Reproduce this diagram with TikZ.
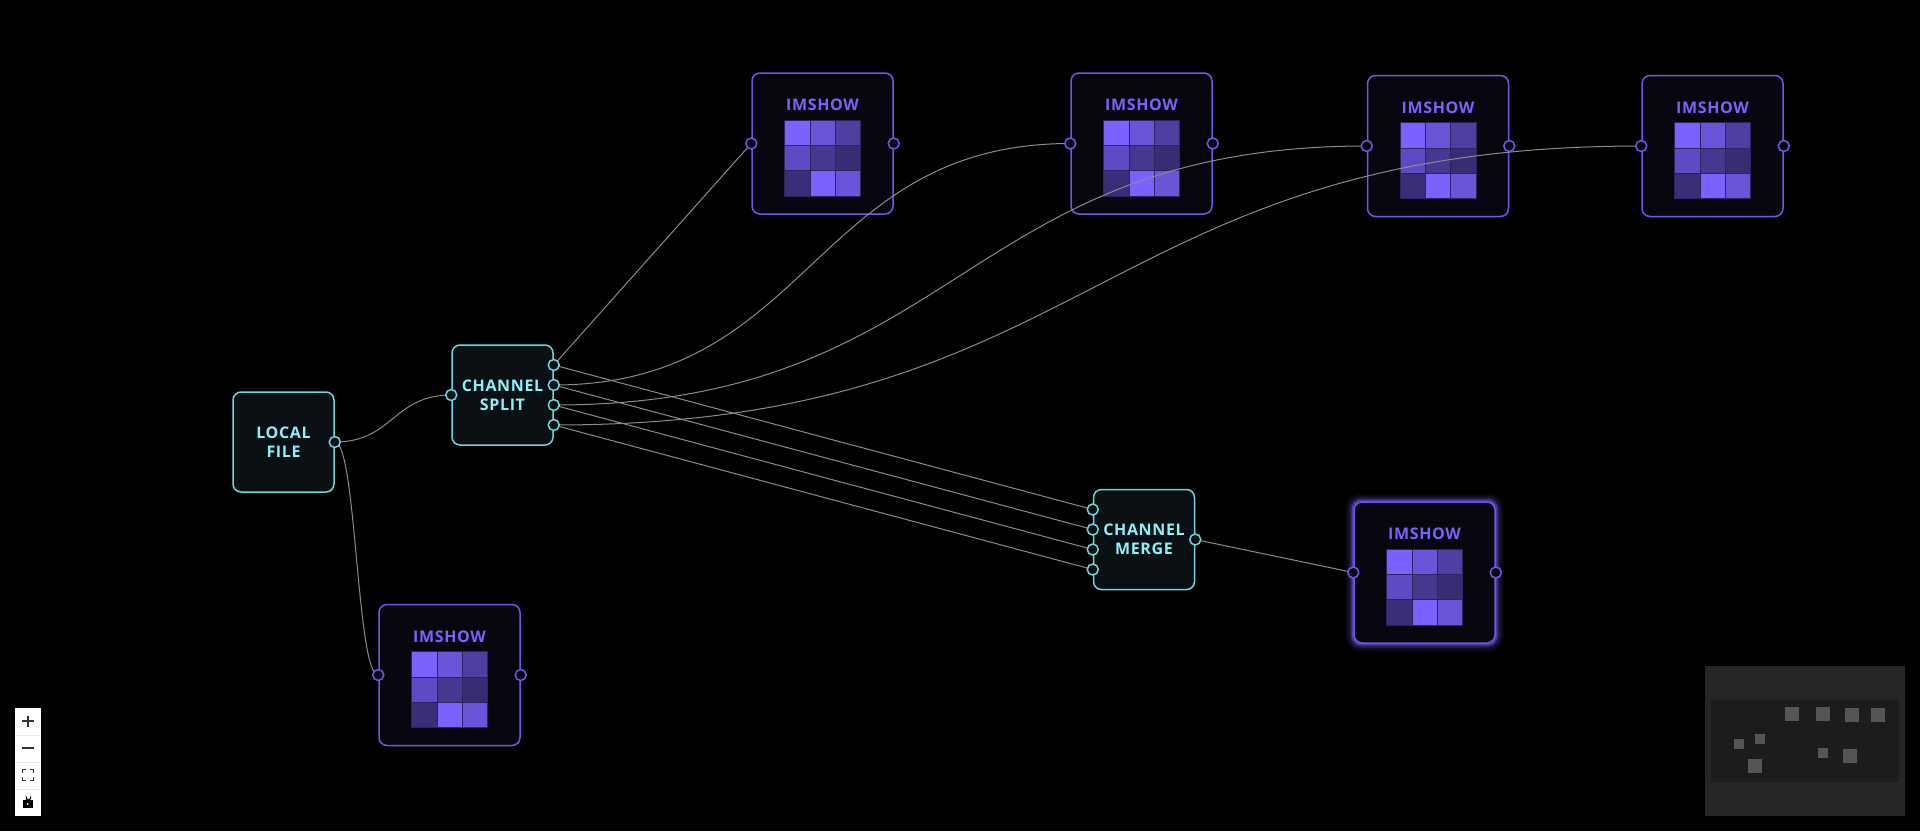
\documentclass[tikz,border=0pt]{standalone}
\usepackage{fontspec}
\setmainfont{Open Sans}
\newfontfamily\nodefont[LetterSpace=4]{Open Sans}
\usetikzlibrary{calc,backgrounds}

\definecolor{opline}{RGB}{112,214,222}
\definecolor{optext}{RGB}{142,240,248}
\definecolor{opfill}{RGB}{10,16,19}
\definecolor{showline}{RGB}{110,88,232}
\definecolor{showtext}{RGB}{122,98,255}
\definecolor{showfill}{RGB}{8,7,16}
\definecolor{wirecol}{RGB}{140,140,140}
\definecolor{cellline}{RGB}{45,36,95}
\definecolor{px1}{RGB}{123,97,255}
\definecolor{px2}{RGB}{105,85,215}
\definecolor{px3}{RGB}{78,63,160}
\definecolor{px4}{RGB}{94,75,195}
\definecolor{px5}{RGB}{70,56,143}
\definecolor{px6}{RGB}{56,44,115}
\definecolor{px7}{RGB}{58,46,120}
\definecolor{mapouter}{RGB}{38,38,38}
\definecolor{mapinner}{RGB}{28,28,28}
\definecolor{mapnode}{RGB}{85,85,85}

\tikzset{
    opbox/.style={draw=opline, fill=opfill, line width=1.5pt, rounded corners=8pt,
        minimum width=101pt, minimum height=100pt, inner sep=0pt, align=center,
        text=optext, font=\nodefont\bfseries\fontsize{16}{19}\selectfont},
    showbox/.style={draw=showline, fill=showfill, line width=1.5pt, rounded corners=8pt,
        minimum width=141pt, minimum height=141pt, inner sep=0pt},
    showtitle/.style={text=showtext, inner sep=0pt,
        font=\nodefont\bfseries\fontsize{16}{19}\selectfont},
    opport/.style={circle, draw=opline, fill=opfill, line width=1.5pt,
        minimum size=11pt, inner sep=0pt},
    showport/.style={circle, draw=showline, fill=showfill, line width=1.5pt,
        minimum size=11pt, inner sep=0pt},
    wire/.style={draw=wirecol, line width=1pt},
    cell/.style={draw=cellline, line width=0.6pt},
    icon/.style={draw=black!80, line width=1.4pt},
}

\newcommand{\imshownode}[3]{%
    \node[showbox] (#1) at (#2,#3) {} ;
    \node[showtitle] (#1-title) at ($(#1.center)+(0,-38.5)$) {IMSHOW} ;
    \foreach \c [count=\k from 0] in {px1,px2,px3,px4,px5,px6,px7,px1,px2} {
        \pgfmathtruncatemacro\gx{mod(\k,3)}
        \pgfmathtruncatemacro\gy{\k/3}
        \filldraw[cell, fill=\c] ($(#1.center)+(\gx*25.33-38,\gy*25.33-23.5)$) rectangle +(25.33,25.33) ;
    }
    \coordinate (#1-in) at (#1.west) ;
    \coordinate (#1-out) at (#1.east) ;
}

\newcommand{\curvewire}[2]{%
    \draw[wire] let \p1=(#1), \p2=(#2) in
        (\p1) .. controls ({(\x1+\x2)/2},\y1) and ({(\x1+\x2)/2},\y2) .. (\p2) ;
}

\begin{document}
\begin{tikzpicture}[x=1pt, y=-1pt]
    \useasboundingbox (0,0) rectangle (1920,831) ;

    \node[opbox] (file) at (283.5,442) {LOCAL\\FILE} ;
    \node[opbox] (split) at (502.5,395) {CHANNEL\\SPLIT} ;
    \node[opbox] (merge) at (1144,539.5) {CHANNEL\\MERGE} ;

    \coordinate (file-out) at (file.east) ;
    \coordinate (split-in) at (split.west) ;
    \coordinate (merge-out) at (merge.east) ;
    \foreach \i/\dy in {1/-30, 2/-10, 3/10, 4/30} {
        \coordinate (split-o\i) at ($(split.east)+(0,\dy)$) ;
        \coordinate (merge-i\i) at ($(merge.west)+(0,\dy)$) ;
    }

    \imshownode{show1}{822.5}{143.5}
    \imshownode{show2}{1141.5}{143.5}
    \imshownode{show3}{1438}{146}
    \imshownode{show4}{1712.5}{146}
    \imshownode{show5}{449.5}{675}
    \imshownode{show6}{1424.5}{572.5}

    \begin{scope}[on background layer]
        \fill[black] (0,0) rectangle (1920,831) ;
        \foreach \w/\o in {16/0.06, 12/0.09, 8/0.14, 5/0.22, 3/0.35} {
            \draw[showtext, line width=\w pt, opacity=\o, rounded corners=8pt]
                (show6.north west) rectangle (show6.south east) ;
        }
    \end{scope}

    \curvewire{file-out}{split-in}
    \curvewire{file-out}{show5-in}
    \curvewire{split-o2}{show2-in}
    \curvewire{split-o3}{show3-in}
    \curvewire{split-o4}{show4-in}
    \draw[wire] (split-o1) -- (show1-in) ;
    \foreach \i in {1,...,4} {
        \draw[wire] (split-o\i) -- (merge-i\i) ;
    }
    \draw[wire] (merge-out) -- (show6-in) ;

    \foreach \p in {file-out, split-in, split-o1, split-o2, split-o3, split-o4,
        merge-out, merge-i1, merge-i2, merge-i3, merge-i4} {
        \node[opport] (\p-dot) at (\p) {} ;
    }
    \foreach \n in {show1, show2, show3, show4, show5, show6} {
        \node[showport] (\n-indot) at (\n-in) {} ;
        \node[showport] (\n-outdot) at (\n-out) {} ;
    }

    \fill[white] (15,708) rectangle (41,816) ;
    \foreach \yy in {735, 762, 789} {
        \draw[black!8] (15,\yy) -- (41,\yy) ;
    }
    \draw[icon] (22,721) -- (34,721) (28,715.5) -- (28,726.5) ;
    \draw[icon] (22,748) -- (34,748) ;
    \draw[icon, line width=1.2pt] (22.5,773) -- (22.5,769.5) -- (26,769.5)
        (30,769.5) -- (33.5,769.5) -- (33.5,773)
        (33.5,777) -- (33.5,780.5) -- (30,780.5)
        (26,780.5) -- (22.5,780.5) -- (22.5,777) ;
    \fill[black] (23,799.5) rectangle (32.5,808) ;
    \draw[black, line width=1.1pt] (26.5,799.5) -- (26.5,798) arc (180:0:2) -- (30.5,798.5) ;
    \fill[white] (27.7,804) circle (1) ;

    \fill[mapouter] (1705,666) rectangle (1905,816) ;
    \fill[mapinner] (1711,700) rectangle (1899,782) ;
    \foreach \mx/\my/\ms in {1785/707/14, 1816/707/14, 1845/708/14, 1871/708/14,
        1734/739/10, 1755/734/10, 1748/759/14, 1818/748/10, 1843/749/14} {
        \fill[mapnode] (\mx,\my) rectangle +(\ms,\ms) ;
    }
\end{tikzpicture}
\end{document}
